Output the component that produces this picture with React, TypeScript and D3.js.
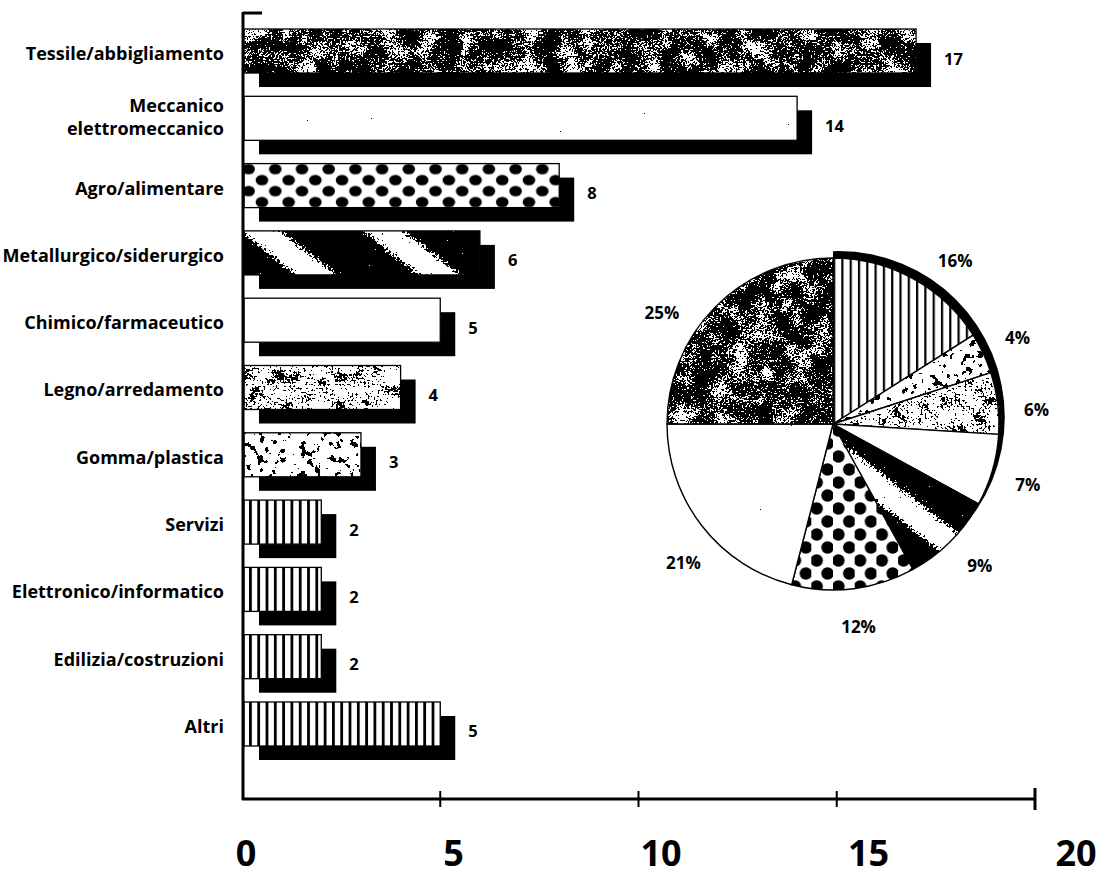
import React from "react";
import * as d3 from "d3";

// ---------- data ----------
const categories = [
  "Tessile/abbigliamento",
  "Meccanico\nelettromeccanico",
  "Agro/alimentare",
  "Metallurgico/siderurgico",
  "Chimico/farmaceutico",
  "Legno/arredamento",
  "Gomma/plastica",
  "Servizi",
  "Elettronico/informatico",
  "Edilizia/costruzioni",
  "Altri",
];
const values = [17, 14, 8, 6, 5, 4, 3, 2, 2, 2, 5];
const valueLabels = ["17", "14", "8", "6", "5", "4", "3", "2", "2", "2", "5"];
const xTicks = [0, 5, 10, 15, 20];
const xTickLabels = ["0", "5", "10", "15", "20"];
const pieValues = [16, 4, 6, 7, 9, 12, 21, 25];
const pieLabels = ["16%", "4%", "6%", "7%", "9%", "12%", "21%", "25%"];

// ---------- styles ----------
const barTexture = ["tessile", "meccanico", "agro", "metal", "plain", "legno", "gomma", "stripes", "stripes", "stripes", "stripes"];
const pieTexture = ["stripesPie", "gomma", "legno", "plain", "metal", "dotsPie", "meccanico", "tessile"];
const pieLabelNudgeDeg = [8, 0, 3, 1, -1, 0, -5, -12];

const textures: Record<string, { fill: string; filter?: string }> = {
  tessile: { fill: "#4a4a4a", filter: "url(#fTessile)" },
  meccanico: { fill: "#ffffff", filter: "url(#fMecc)" },
  agro: { fill: "url(#pDots)" },
  metal: { fill: "url(#pMetal)", filter: "url(#fMetal)" },
  plain: { fill: "#ffffff" },
  legno: { fill: "#c0c0c0", filter: "url(#fLegno)" },
  gomma: { fill: "#dadada", filter: "url(#fGomma)" },
  stripes: { fill: "url(#pStripes)" },
  stripesPie: { fill: "url(#pStripesPie)" },
  dotsPie: { fill: "url(#pDotsPie)" },
};

const FONT = "'Open Sans', Lato, 'DejaVu Sans', sans-serif";
const W = 1106;
const H = 877;

function Dither({
  id,
  freq,
  oct,
  seed,
  amp,
  freq2 = 0.6,
  w2 = 0,
}: {
  id: string;
  freq: number;
  oct: number;
  seed: number;
  amp: number;
  freq2?: number;
  w2?: number;
}) {
  return (
    <filter id={id} x="-5%" y="-5%" width="110%" height="110%" colorInterpolationFilters="sRGB">
      <feTurbulence type="fractalNoise" baseFrequency={freq} numOctaves={oct} seed={seed} result="t1" />
      <feTurbulence type="fractalNoise" baseFrequency={freq2} numOctaves={2} seed={seed + 17} result="t2" />
      <feComposite in="t1" in2="t2" operator="arithmetic" k1={0} k2={1 - w2} k3={w2} k4={0} result="t" />
      <feColorMatrix in="t" type="matrix" values="1 0 0 0 0  1 0 0 0 0  1 0 0 0 0  0 0 0 0 1" result="g" />
      <feComposite in="SourceGraphic" in2="g" operator="arithmetic" k1={0} k2={1} k3={amp} k4={-amp / 2} result="m" />
      <feComponentTransfer in="m" result="th">
        <feFuncR type="discrete" tableValues="0 1" />
        <feFuncG type="discrete" tableValues="0 1" />
        <feFuncB type="discrete" tableValues="0 1" />
        <feFuncA type="linear" slope={0} intercept={1} />
      </feComponentTransfer>
      <feComposite in="th" in2="SourceGraphic" operator="in" />
    </filter>
  );
}

export default function App() {
  const x = d3.scaleLinear().domain([0, 20]).range([242, 1035]);
  const xLab = d3.scaleLinear().domain([0, 20]).range([246, 1076]);
  const y = d3
    .scaleBand<string>()
    .domain(categories)
    .range([29, 746])
    .paddingInner(0.346)
    .paddingOuter(0);
  const bw = y.bandwidth();
  const shX = 15;
  const shY = 14;

  const cx = 833;
  const cy = 424;
  const r = 166;
  const pie = d3.pie<number>().sort(null).startAngle(0).endAngle(2 * Math.PI)(pieValues);
  const arc = d3.arc<d3.PieArcDatum<number>>().innerRadius(0).outerRadius(r);
  const wedge = d3.arc()({ innerRadius: 0, outerRadius: r + 20, startAngle: 0, endAngle: (125 * Math.PI) / 180 }) as string;
  const offAng = (40 * Math.PI) / 180;
  const offD = 9;

  const agroTop = y(categories[2]) as number;

  return (
    <svg width={W} height={H} style={{ position: "absolute", left: 0, top: 0, background: "#fff" }} fontFamily={FONT}>
      <defs>
        <Dither id="fTessile" freq={0.05} oct={3} seed={3} amp={4} freq2={0.55} w2={0.55} />
        <Dither id="fMecc" freq={0.3} oct={2} seed={7} amp={1.35} />
        <Dither id="fLegno" freq={0.07} oct={3} seed={11} amp={4} freq2={0.5} w2={0.55} />
        <Dither id="fGomma" freq={0.14} oct={3} seed={5} amp={3} />
        <Dither id="fMetal" freq={0.45} oct={3} seed={2} amp={1.4} />
        <pattern id="pStripes" patternUnits="userSpaceOnUse" width={8.3} height={10}>
          <rect width={8.3} height={10} fill="#fff" />
          <rect x={0} width={2.8} height={10} fill="#000" />
        </pattern>
        <pattern id="pStripesPie" patternUnits="userSpaceOnUse" width={8.3} height={10}>
          <rect width={8.3} height={10} fill="#fff" />
          <rect x={0} width={2.2} height={10} fill="#000" />
        </pattern>
        <pattern id="pDots" patternUnits="userSpaceOnUse" x={x(0)} y={agroTop} width={26.7} height={22}>
          <rect width={26.7} height={22} fill="#fff" />
          <ellipse cx={6.6} cy={5.5} rx={6.3} ry={5.2} fill="#000" />
          <ellipse cx={19.95} cy={16.5} rx={6.3} ry={5.2} fill="#000" />
        </pattern>
        <pattern id="pDotsPie" patternUnits="userSpaceOnUse" width={21.7} height={26}>
          <rect width={21.7} height={26} fill="#fff" />
          <circle cx={5.4} cy={6.5} r={6.2} fill="#000" />
          <circle cx={16.25} cy={19.5} r={6.2} fill="#000" />
        </pattern>
        <linearGradient id="gMetal" x1="0" x2="1" y1="0" y2="0">
          <stop offset="0" stopColor="#000" />
          <stop offset="0.48" stopColor="#000" />
          <stop offset="0.62" stopColor="#fff" />
          <stop offset="0.8" stopColor="#fff" />
          <stop offset="0.92" stopColor="#333" />
          <stop offset="1" stopColor="#000" />
        </linearGradient>
        <pattern id="pMetal" patternUnits="userSpaceOnUse" width={123} height={200} patternTransform="skewX(52)">
          <rect width={123} height={200} fill="url(#gMetal)" />
        </pattern>
        <clipPath id="wedgeClip">
          <path d={wedge} transform={`translate(${cx},${cy})`} />
        </clipPath>
      </defs>

      {/* bars */}
      {categories.map((c, i) => {
        const top = y(c) as number;
        const x0 = x(0) + 2;
        const x1 = x(values[i]);
        const t = textures[barTexture[i]];
        return (
          <g key={c}>
            <rect x={x0 + shX} y={top + shY} width={x1 - x0} height={bw} fill="#000" />
            <rect x={x0} y={top} width={x1 - x0} height={bw} fill="#fff" />
            <rect x={x0} y={top} width={x1 - x0} height={bw} fill={t.fill} filter={t.filter} />
            <rect x={x0} y={top} width={x1 - x0} height={bw} fill="none" stroke="#000" strokeWidth={1.3} />
            <text
              x={x1 + shX + 13}
              y={top + 29}
              dominantBaseline="central"
              fontSize={16.5}
              fontWeight={700}
              fill="#000"
            >
              {valueLabels[i]}
            </text>
          </g>
        );
      })}

      {/* category labels */}
      {categories.map((c) => {
        const top = y(c) as number;
        const lines = c.split("\n");
        const lh = 23;
        const center = lines.length > 1 ? top + 20.5 : top + 24;
        return (
          <text key={"l" + c} x={224} textAnchor="end" fontSize={18} fontWeight={700} fill="#000">
            {lines.map((ln, k) => (
              <tspan key={k} x={224} y={center + (k - (lines.length - 1) / 2) * lh} dominantBaseline="central">
                {ln}
              </tspan>
            ))}
          </text>
        );
      })}

      {/* axes */}
      <line x1={243} x2={243} y1={12} y2={800} stroke="#000" strokeWidth={3} />
      <line x1={243} x2={262} y1={13} y2={13} stroke="#000" strokeWidth={3} />
      <line x1={x(0)} x2={x(20)} y1={799} y2={799} stroke="#000" strokeWidth={3} />
      {xTicks.slice(1).map((v) => (
        <line
          key={"t" + v}
          x1={x(v)}
          x2={x(v)}
          y1={v === 20 ? 788 : 791}
          y2={v === 20 ? 810 : 807}
          stroke="#000"
          strokeWidth={v === 20 ? 3 : 2}
        />
      ))}
      {xTicks.map((v, i) => (
        <text
          key={"xl" + v}
          x={xLab(v)}
          y={866}
          textAnchor="middle"
          fontSize={36}
          fontWeight={700}
          fill="#000"
        >
          {xTickLabels[i]}
        </text>
      ))}

      {/* pie shadow rim */}
      <g clipPath="url(#wedgeClip)">
        <circle cx={cx + offD * Math.sin(offAng)} cy={cy - offD * Math.cos(offAng)} r={r} fill="#000" />
      </g>

      {/* pie */}
      <g transform={`translate(${cx},${cy})`}>
        {pie.map((d, i) => {
          const t = textures[pieTexture[i]];
          const p = arc(d) as string;
          return (
            <g key={"p" + i}>
              <path d={p} fill="#fff" />
              <path d={p} fill={t.fill} filter={t.filter} />
              <path d={p} fill="none" stroke="#000" strokeWidth={1.4} strokeLinejoin="round" />
            </g>
          );
        })}
        {pie.map((d, i) => {
          const a = (d.startAngle + d.endAngle) / 2 + (pieLabelNudgeDeg[i] * Math.PI) / 180;
          const rr = 204;
          return (
            <text
              key={"pl" + i}
              x={rr * Math.sin(a)}
              y={-rr * Math.cos(a)}
              textAnchor="middle"
              dominantBaseline="central"
              fontSize={17}
              fontWeight={700}
              fill="#000"
            >
              {pieLabels[i]}
            </text>
          );
        })}
      </g>
    </svg>
  );
}
